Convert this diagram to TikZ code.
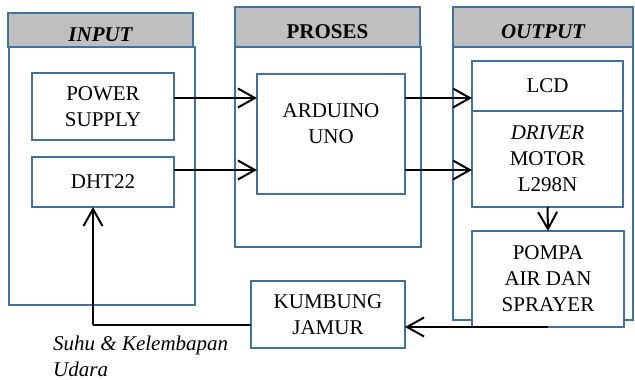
\documentclass[tikz,border=0pt]{standalone}
\usepackage{fontspec}
\setmainfont{Liberation Serif}
\usetikzlibrary{arrows.meta}
\definecolor{azul}{HTML}{41719C}
\definecolor{gris}{HTML}{BFBFBF}

\begin{document}
\begin{tikzpicture}[x=1pt, y=-1pt,
    caja/.style={draw=azul, line width=2pt, fill=white, inner sep=0pt, outer sep=0pt,
      font=\fontsize{21}{26}\selectfont, align=center, text depth=0pt},
    cabeza/.style={caja, fill=gris, text height=22pt, font=\fontsize{21}{26}\selectfont\bfseries},
    flecha/.style={line width=2pt, -{Straight Barb[length=17pt,width=19pt,line width=2pt]}},
    delgada/.style={line width=1.2pt}]
    \useasboundingbox (0,0) rectangle (635,380);
    % Columnas
    \node[caja, minimum width=186pt, minimum height=258pt] (cinput) at (102,176) {};
    \node[caja, minimum width=186pt, minimum height=200pt] (cproses) at (328,147) {};
    \node[caja, minimum width=180pt, minimum height=273pt] (coutput) at (543,183.5) {};
    \node[cabeza, minimum width=185pt, minimum height=34pt] (hinput) at (100.5,30) {\itshape INPUT};
    \node[cabeza, minimum width=185pt, minimum height=40pt] (hproses) at (327.5,27) {PROSES};
    \node[cabeza, minimum width=180pt, minimum height=40pt] (houtput) at (543,27) {\itshape OUTPUT};
    % Bloques
    \node[caja, minimum width=142pt, minimum height=67pt] (ps) at (103,106.5) {POWER\\SUPPLY};
    \node[caja, minimum width=142pt, minimum height=50pt] (dht) at (103,182) {DHT22};
    \node[caja, minimum width=148pt, minimum height=120pt] (arduino) at (331,134) {};
    \node[align=center, font=\fontsize{21}{26}\selectfont, text depth=0pt] (arduinotxt) at (331,124) {ARDUINO\\UNO};
    \node[caja, minimum width=151pt, minimum height=50pt] (lcd) at (547.5,86) {LCD};
    \node[caja, minimum width=151pt, minimum height=96pt] (driver) at (547.5,159) {\textit{DRIVER}\\MOTOR\\L298N};
    \node[caja, minimum width=152pt, minimum height=96pt] (pompa) at (548,279) {POMPA\\AIR DAN\\SPRAYER};
    \node[caja, minimum width=154pt, minimum height=67pt] (kumbung) at (328,314.5) {KUMBUNG\\JAMUR};
    % Flechas
    \coordinate (fila1) at (0,98);
    \coordinate (fila2) at (0,170);
    \coordinate (retorno) at (93,325);
    \draw[flecha] (ps.east |- fila1) -- (arduino.west |- fila1);
    \draw[flecha] (dht.east |- fila2) -- (arduino.west |- fila2);
    \draw[flecha] (arduino.east |- fila1) -- (lcd.west |- fila1);
    \draw[flecha] (arduino.east |- fila2) -- (driver.west |- fila2);
    \draw[flecha] (driver.south) -- (pompa.north);
    \draw[flecha] (pompa.south) -- (pompa.south -| kumbung.east);
    \draw[delgada] (kumbung.west |- retorno) -- (retorno);
    \draw[flecha] (retorno) -- (retorno |- dht.south);
    \node[anchor=north west, inner sep=0pt, align=left, font=\fontsize{21}{26}\selectfont\itshape] (etiqueta) at (53,336) {Suhu \& Kelembapan\\Udara};
\end{tikzpicture}
\end{document}
